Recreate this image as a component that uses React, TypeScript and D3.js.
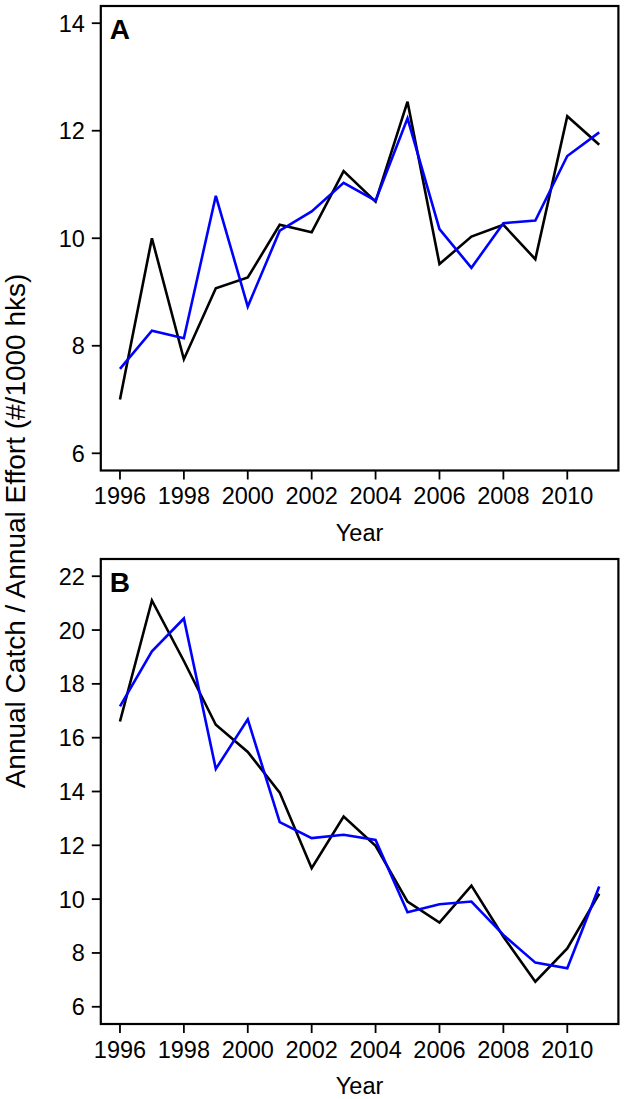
import React from "react";
import * as d3 from "d3";

const years = [1996, 1997, 1998, 1999, 2000, 2001, 2002, 2003, 2004, 2005, 2006, 2007, 2008, 2009, 2010, 2011];
const aBlack = [7.0, 10.0, 7.75, 9.07, 9.27, 10.25, 10.11, 11.25, 10.68, 12.54, 9.52, 10.03, 10.25, 9.61, 12.27, 11.74];
const aBlue = [7.57, 8.28, 8.14, 10.79, 8.73, 10.14, 10.5, 11.03, 10.7, 12.23, 10.17, 9.45, 10.28, 10.33, 11.53, 11.97];
const bBlack = [16.6, 21.1, 18.85, 16.48, 15.47, 13.96, 11.15, 13.07, 11.98, 9.91, 9.13, 10.5, 8.6, 6.93, 8.17, 10.2];
const bBlue = [17.16, 19.21, 20.43, 14.84, 16.68, 12.86, 12.27, 12.39, 12.2, 9.51, 9.81, 9.91, 8.67, 7.64, 7.43, 10.47];
const xTicks = [1996, 1998, 2000, 2002, 2004, 2006, 2008, 2010];
const aTicks = [6, 8, 10, 12, 14];
const bTicks = [6, 8, 10, 12, 14, 16, 18, 20, 22];

const W = 626;
const H = 1099;
const FONT = "'Liberation Sans', Arial, Helvetica, sans-serif";
const LEFT = 100.8;
const RIGHT = 618.4;

const x = d3.scaleLinear().domain([1995.4, 2011.6]).range([LEFT, RIGHT]);

function Panel({ label, top, bottom, domain, ticks, black, blue }: any) {
  const y = d3.scaleLinear().domain(domain).range([bottom, top]);
  const line = d3
    .line<number>()
    .x((_, i) => x(years[i]))
    .y((d) => y(d));
  return (
    <g>
      <path d={line(black) || ""} fill="none" stroke="#000" strokeWidth={2.6} strokeLinejoin="miter" />
      <path d={line(blue) || ""} fill="none" stroke="#0000ff" strokeWidth={2.6} strokeLinejoin="miter" />
      <rect x={LEFT} y={top} width={RIGHT - LEFT} height={bottom - top} fill="none" stroke="#000" strokeWidth={2.2} />
      {ticks.map((t: number) => (
        <g key={"y" + t}>
          <line x1={LEFT - 9} x2={LEFT} y1={y(t)} y2={y(t)} stroke="#000" strokeWidth={1.8} />
          <text x={LEFT - 16} y={y(t)} dy="0.36em" textAnchor="end" fontSize={23.5} fontFamily={FONT}>
            {t}
          </text>
        </g>
      ))}
      {xTicks.map((t) => (
        <g key={"x" + t}>
          <line x1={x(t)} x2={x(t)} y1={bottom} y2={bottom + 9} stroke="#000" strokeWidth={1.8} />
          <text x={x(t)} y={bottom + 33.5} textAnchor="middle" fontSize={23.5} fontFamily={FONT}>
            {t}
          </text>
        </g>
      ))}
      <text x={(LEFT + RIGHT) / 2} y={bottom + 70} textAnchor="middle" fontSize={23.5} fontFamily={FONT}>
        Year
      </text>
      <text x={LEFT + 9} y={top + 32.5} fontSize={28} fontWeight="bold" fontFamily={FONT}>
        {label}
      </text>
    </g>
  );
}

export default function App() {
  return (
    <svg
      width={W}
      height={H}
      viewBox={`0 0 ${W} ${H}`}
      style={{ position: "absolute", left: 0, top: 0, background: "#fff" }}
    >
      <rect x={0} y={0} width={W} height={H} fill="#fff" />
      <Panel label="A" top={6} bottom={470.5} domain={[5.68, 14.32]} ticks={aTicks} black={aBlack} blue={aBlue} />
      <Panel label="B" top={559} bottom={1024} domain={[5.36, 22.64]} ticks={bTicks} black={bBlack} blue={bBlue} />
      <text
        transform={`translate(25, 531) rotate(-90)`}
        textAnchor="middle"
        fontSize={28}
        fontFamily={FONT}
      >
        Annual Catch / Annual Effort (#/1000 hks)
      </text>
    </svg>
  );
}
